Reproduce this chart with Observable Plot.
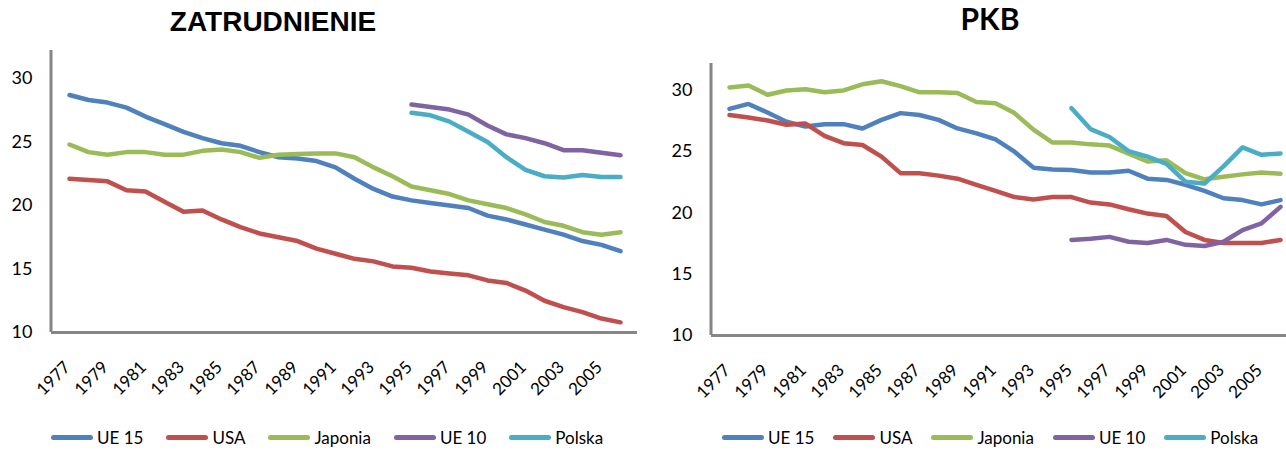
<!DOCTYPE html>
<html>
<head>
<meta charset="utf-8">
<script src="https://cdn.jsdelivr.net/npm/d3@7"></script>
<script src="https://cdn.jsdelivr.net/npm/@observablehq/plot@0.6"></script>
<style>
  html, body { margin: 0; padding: 0; background: #fff; }
  body { width: 1286px; height: 451px; overflow: hidden; position: relative; font-family: Lato, "Open Sans", sans-serif; }
  .panel { position: absolute; top: 0; width: 660px; height: 400px; }
  .panel svg { max-width: none !important; }
  .title { position: absolute; white-space: nowrap; color: #000; transform: translateX(-50%); }
  .legend { position: absolute; display: flex; align-items: center; font-size: 17px; color: #000; white-space: nowrap; }
  .legend .item { display: flex; align-items: center; margin-right: 23px; }
  #legR .item { margin-right: 19px; }
  .legend .sw { display: inline-block; width: 42px; height: 5px; border-radius: 3px; margin-right: 4px; }
</style>
</head>
<body>
<div id="left" class="panel" style="left:0px"></div>
<div id="right" class="panel" style="left:660px"></div>
<div class="title" style="left:273px; top:6px; font: bold 28px 'Liberation Sans', Arial, sans-serif;">ZATRUDNIENIE</div>
<div class="title" style="left:990px; top:0px; font: bold 30px Lato, sans-serif;">PKB</div>
<div id="legL" class="legend" style="left:51px; top:427px;"></div>
<div id="legR" class="legend" style="left:722px; top:427px;"></div>
<script>
const years = d3.range(1977, 2007);
const yearsNew = d3.range(1995, 2007);
const tickYears = d3.range(1977, 2006, 2);
const yTicks = [10, 15, 20, 25, 30];
const seriesNames = ["UE 15", "USA", "Japonia", "UE 10", "Polska"];
const seriesColors = ["#4F81BD", "#C0504D", "#9BBB59", "#8064A2", "#4BACC6"];

// ZATRUDNIENIE
const zUE15 = [28.7, 28.3, 28.1, 27.7, 27.0, 26.4, 25.8, 25.3, 24.9, 24.7, 24.2, 23.8, 23.7, 23.5, 23.0, 22.1, 21.3, 20.7, 20.4, 20.2, 20.0, 19.8, 19.2, 18.9, 18.5, 18.1, 17.7, 17.2, 16.9, 16.4];
const zUSA = [22.1, 22.0, 21.9, 21.2, 21.1, 20.3, 19.5, 19.6, 18.9, 18.3, 17.8, 17.5, 17.2, 16.6, 16.2, 15.8, 15.6, 15.2, 15.1, 14.8, 14.65, 14.5, 14.1, 13.9, 13.3, 12.5, 12.0, 11.6, 11.1, 10.8];
const zJaponia = [24.8, 24.2, 24.0, 24.2, 24.2, 24.0, 24.0, 24.3, 24.4, 24.2, 23.75, 24.0, 24.05, 24.1, 24.1, 23.8, 23.0, 22.3, 21.5, 21.2, 20.9, 20.4, 20.1, 19.8, 19.3, 18.7, 18.4, 17.9, 17.7, 17.9];
const zUE10 = [27.95, 27.75, 27.55, 27.15, 26.3, 25.6, 25.3, 24.9, 24.35, 24.35, 24.15, 23.95];
const zPolska = [27.3, 27.1, 26.6, 25.8, 25.0, 23.8, 22.8, 22.3, 22.2, 22.4, 22.25, 22.25];

// PKB
const pUE15 = [28.5, 28.9, 28.2, 27.45, 27.05, 27.25, 27.25, 26.9, 27.6, 28.15, 28.0, 27.6, 26.9, 26.5, 26.0, 25.0, 23.7, 23.55, 23.5, 23.3, 23.3, 23.45, 22.8, 22.7, 22.3, 21.8, 21.2, 21.05, 20.7, 21.05];
const pUSA = [28.0, 27.8, 27.55, 27.2, 27.3, 26.3, 25.7, 25.55, 24.6, 23.25, 23.25, 23.05, 22.8, 22.3, 21.8, 21.3, 21.1, 21.3, 21.3, 20.85, 20.7, 20.3, 19.95, 19.75, 18.45, 17.8, 17.55, 17.55, 17.55, 17.8];
const pJaponia = [30.25, 30.4, 29.65, 30.0, 30.1, 29.85, 30.0, 30.5, 30.75, 30.35, 29.85, 29.85, 29.8, 29.05, 28.95, 28.15, 26.8, 25.75, 25.75, 25.6, 25.5, 24.85, 24.2, 24.3, 23.25, 22.75, 22.95, 23.15, 23.3, 23.2];
const pUE10 = [17.8, 17.9, 18.05, 17.65, 17.55, 17.8, 17.4, 17.3, 17.65, 18.6, 19.15, 20.5];
const pPolska = [28.55, 26.85, 26.2, 25.05, 24.6, 24.0, 22.55, 22.4, 23.8, 25.35, 24.75, 24.85];

function toRows(list) {
  const rows = [];
  for (const [name, xs, vs] of list) vs.forEach((v, i) => rows.push({series: name, year: xs[i], value: v}));
  return rows;
}
const zRows = toRows([["UE 15", years, zUE15], ["USA", years, zUSA], ["Japonia", years, zJaponia], ["UE 10", yearsNew, zUE10], ["Polska", yearsNew, zPolska]]);
const pRows = toRows([["UE 15", years, pUE15], ["USA", years, pUSA], ["Japonia", years, pJaponia], ["UE 10", yearsNew, pUE10], ["Polska", yearsNew, pPolska]]);

const axisColor = "#868686";
function leftAxisLine(index, scales, values, dims) {
  return d3.create("svg:line")
    .attr("x1", dims.marginLeft).attr("x2", dims.marginLeft)
    .attr("y1", dims.marginTop).attr("y2", dims.height - dims.marginBottom)
    .attr("stroke", axisColor).attr("stroke-width", 3).node();
}

function chart(rows, marginTop, marginBottom) {
  return Plot.plot({
    width: 660,
    height: 400,
    marginLeft: 51,
    marginRight: 23,
    marginTop,
    marginBottom,
    style: {fontFamily: "Lato, 'Open Sans', sans-serif", color: "#000", background: "transparent", overflow: "visible", maxWidth: "none"},
    x: {type: "point", domain: years, padding: 0.5, axis: null},
    y: {domain: [10, 32.2], axis: null},
    color: {domain: seriesNames, range: seriesColors},
    marks: [
      Plot.ruleY([10], {stroke: axisColor, strokeWidth: 3}),
      leftAxisLine,
      Plot.text(yTicks, {y: d => d, text: d => String(d), frameAnchor: "left", textAnchor: "end", dx: -19, fontSize: 18, fill: "#000"}),
      Plot.text(tickYears, {x: d => d, text: d => String(d), frameAnchor: "bottom", rotate: -45, textAnchor: "end", lineAnchor: "middle", dx: -2, dy: 32, fontSize: 17, fill: "#000"}),
      Plot.line(rows, {x: "year", y: "value", z: "series", stroke: "series", strokeWidth: 4.5, strokeLinecap: "round", strokeLinejoin: "round"})
    ]
  });
}

document.getElementById("left").append(chart(zRows, 50, 68));
document.getElementById("right").append(chart(pRows, 63, 65));

function legend(el) {
  seriesNames.forEach((n, i) => {
    const item = document.createElement("div");
    item.className = "item";
    const sw = document.createElement("span");
    sw.className = "sw";
    sw.style.background = seriesColors[i];
    const t = document.createElement("span");
    t.textContent = n;
    item.append(sw, t);
    el.append(item);
  });
}
legend(document.getElementById("legL"));
legend(document.getElementById("legR"));
</script>
</body>
</html>
